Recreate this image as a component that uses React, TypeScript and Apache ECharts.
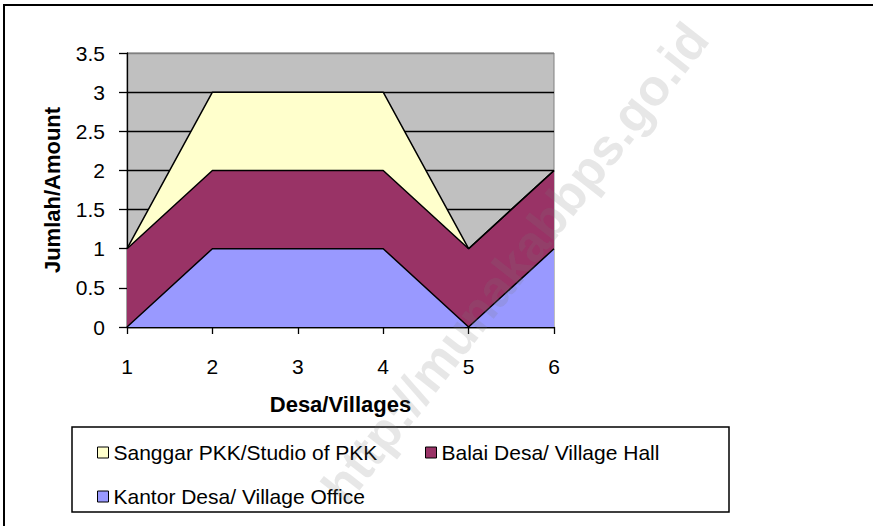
import React, { useEffect, useRef } from "react";
import * as echarts from "echarts";

const categories = ["1", "2", "3", "4", "5", "6"];
const kantorDesa = [0, 1, 1, 1, 0, 1];
const balaiDesa = [1, 1, 1, 1, 1, 1];
const sanggarPKK = [0, 1, 1, 1, 0, 0];
const seriesNames = [
  "Kantor Desa/ Village Office",
  "Balai Desa/ Village Hall",
  "Sanggar PKK/Studio of PKK",
];
const seriesColors = ["#9999FF", "#993366", "#FFFFCC"];
const yTicks = { min: 0, max: 3.5, interval: 0.5 };
const xTitle = "Desa/Villages";
const yTitle = "Jumlah/Amount";
const watermark = "http://munakabbps.go.id";

const FONT = "'Liberation Sans', Arial, sans-serif";

export default function App() {
  const ref = useRef<HTMLDivElement>(null);
  useEffect(() => {
    if (!ref.current) return;
    const chart = echarts.init(ref.current, null, { renderer: "svg" });
    const data = [kantorDesa, balaiDesa, sanggarPKK];
    const legendText = { color: "#000", fontFamily: FONT, fontSize: 21 };
    const mkLegend = (name: string, left: number, top: number) => ({
      data: [name],
      left,
      top,
      orient: "horizontal",
      icon: "rect",
      itemWidth: 11,
      itemHeight: 11,
      selectedMode: false,
      textStyle: legendText,
      itemStyle: { borderColor: "#000", borderWidth: 1 },
    });
    chart.setOption({
      animation: false,
      backgroundColor: "#fff",
      textStyle: { fontFamily: FONT },
      grid: {
        left: 127,
        right: 319,
        top: 53,
        bottom: 199,
        show: true,
        backgroundColor: "#C0C0C0",
        borderColor: "#808080",
        borderWidth: 1,
        containLabel: false,
      },
      xAxis: {
        type: "category",
        data: categories,
        boundaryGap: false,
        name: xTitle,
        nameLocation: "middle",
        nameGap: 66,
        nameTextStyle: { color: "#000", fontFamily: FONT, fontSize: 22, fontWeight: "bold" },
        axisLine: { lineStyle: { color: "#000", width: 1.3 } },
        axisTick: { alignWithLabel: true, length: 7, lineStyle: { color: "#000", width: 1.3 } },
        axisLabel: { color: "#000", fontFamily: FONT, fontSize: 21, margin: 29 },
        splitLine: { show: false },
      },
      yAxis: {
        type: "value",
        min: yTicks.min,
        max: yTicks.max,
        interval: yTicks.interval,
        name: yTitle,
        nameLocation: "middle",
        nameGap: 64,
        nameTextStyle: { color: "#000", fontFamily: FONT, fontSize: 22, fontWeight: "bold" },
        axisLine: { show: true, lineStyle: { color: "#000", width: 1.3 } },
        axisTick: { show: true, length: 8, lineStyle: { color: "#000", width: 1.3 } },
        axisLabel: { color: "#000", fontFamily: FONT, fontSize: 21, margin: 22 },
        splitLine: {
          show: true,
          lineStyle: {
            color: ["#000", "#000", "#000", "#000", "#000", "#000", "#000", "#808080"],
            width: 1.3,
          },
        },
      },
      legend: [
        mkLegend(seriesNames[2], 92, 437),
        mkLegend(seriesNames[1], 420, 437),
        mkLegend(seriesNames[0], 92, 481),
      ],
      series: data.map((d, i) => ({
        type: "line",
        name: seriesNames[i],
        data: d,
        stack: "total",
        symbol: "none",
        showSymbol: false,
        lineStyle: { color: "#000", width: 1.5 },
        itemStyle: { color: seriesColors[i], borderColor: "#000" },
        areaStyle: { color: seriesColors[i], opacity: 1 },
        z: 2,
      })),
      graphic: [
        {
          type: "rect",
          shape: { x: 4, y: 5, width: 900, height: 600 },
          style: { fill: "none", stroke: "#000", lineWidth: 2 },
          silent: true,
          z: 100,
        },
        {
          type: "rect",
          shape: { x: 72, y: 427, width: 657, height: 85 },
          style: { fill: "none", stroke: "#000", lineWidth: 1.5 },
          silent: true,
          z: 100,
        },
        {
          type: "text",
          x: 515,
          y: 263,
          rotation: (52 * Math.PI) / 180,
          style: {
            text: watermark,
            fill: "rgba(120,120,120,0.18)",
            font: `bold 51px ${FONT}`,
            align: "center",
            verticalAlign: "middle",
          },
          silent: true,
          z: 200,
        },
      ],
    });
    return () => chart.dispose();
  }, []);
  return (
    <div
      ref={ref}
      style={{ position: "fixed", left: 0, top: 0, width: 873, height: 526 }}
    />
  );
}
